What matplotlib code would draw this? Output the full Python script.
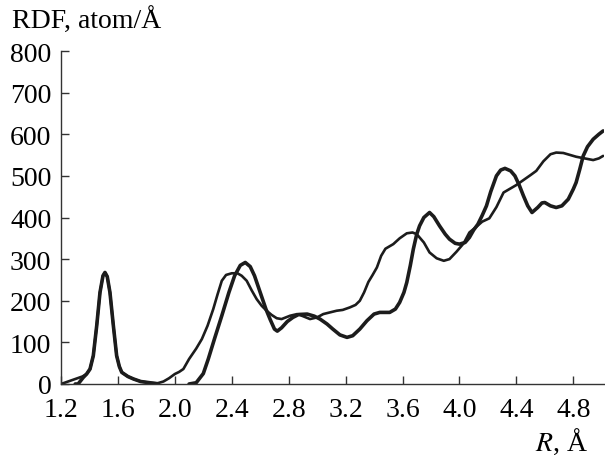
import numpy as np
import matplotlib
matplotlib.use("Agg")
import matplotlib.pyplot as plt

# Thick curve (with gap between ~1.9 and 2.1 where it lies on zero)
r_thick = [1.30, 1.32, 1.357, 1.38, 1.404, 1.427, 1.451, 1.474, 1.495, 1.509, 1.525, 1.544, 1.568, 1.591,
           1.61, 1.627, 1.67, 1.71, 1.76, 1.825, 1.88,
           np.nan,
           2.10, 2.15, 2.20, 2.235, 2.28, 2.33, 2.38, 2.42, 2.46, 2.495, 2.53, 2.56, 2.60, 2.64, 2.67, 2.70,
           2.72, 2.75, 2.79, 2.83, 2.87, 2.93, 2.98, 3.02, 3.07, 3.11, 3.16, 3.21, 3.25, 3.30, 3.35, 3.40,
           3.44, 3.51, 3.55, 3.58, 3.61, 3.63, 3.655, 3.676, 3.70, 3.72, 3.75, 3.79, 3.82, 3.86, 3.90, 3.93,
           3.97, 4.00, 4.04, 4.07, 4.10, 4.13, 4.16, 4.19, 4.22, 4.26, 4.29, 4.32, 4.36, 4.39, 4.42, 4.45,
           4.48, 4.51, 4.55, 4.58, 4.60, 4.64, 4.68, 4.72, 4.765, 4.80, 4.82, 4.845, 4.87, 4.90, 4.94, 4.98, 5.01]
v_thick = [0, 0, 16, 24, 36, 68, 140, 220, 260, 268, 258, 220, 140, 68,
           42, 28, 18, 12, 6, 3, 0,
           np.nan,
           0, 3, 25, 60, 110, 164, 220, 260, 285, 292, 282, 260, 220, 180, 155, 132,
           127, 135, 150, 160, 167, 168, 163, 156, 144, 132, 118, 112, 116, 132, 152, 168,
           172, 172, 180, 196, 220, 244, 285, 324, 360, 380, 400, 412, 402, 380, 360, 348,
           338, 336, 340, 352, 370, 384, 405, 428, 462, 500, 514, 518, 512, 500, 478, 452,
           428, 412, 424, 435, 436, 428, 424, 428, 444, 468, 484, 515, 548, 570, 588, 600, 608]

# Thin curve
r_thin = [1.20, 1.25, 1.30, 1.35, 1.38, 1.404, 1.427, 1.451, 1.474, 1.495, 1.509, 1.525, 1.544, 1.568, 1.591,
          1.61, 1.627, 1.67, 1.71, 1.76, 1.825,
          1.88, 1.92, 1.96, 2.00, 2.03, 2.06, 2.10, 2.15, 2.19, 2.23, 2.27, 2.30, 2.33, 2.36, 2.40, 2.44,
          2.47, 2.505, 2.54, 2.575, 2.61, 2.645, 2.68, 2.716, 2.75, 2.81, 2.86, 2.90, 2.95, 3.00, 3.043,
          3.09, 3.137, 3.18, 3.23, 3.27, 3.30, 3.33, 3.36, 3.39, 3.42, 3.45, 3.48, 3.535, 3.58, 3.63, 3.67,
          3.70, 3.75, 3.79, 3.84, 3.89, 3.93, 3.98, 4.03, 4.07, 4.12, 4.16, 4.21, 4.26, 4.31, 4.36, 4.40,
          4.45, 4.50, 4.54, 4.59, 4.64, 4.68, 4.73, 4.78, 4.82, 4.88, 4.94, 4.98, 5.01]
v_thin = [0, 6, 12, 18, 24, 36, 68, 140, 220, 260, 268, 258, 220, 140, 68,
          42, 28, 18, 12, 6, 3,
          2, 6, 14, 24, 29, 36, 60, 85, 108, 140, 180, 215, 248, 262, 266, 266,
          260, 248, 225, 204, 188, 176, 166, 158, 156, 164, 168, 163, 156, 160, 168,
          172, 176, 178, 184, 190, 200, 220, 245, 262, 280, 308, 325, 336, 350, 362, 364,
          360, 340, 316, 302, 296, 300, 318, 338, 364, 378, 390, 398, 425, 460, 470, 478,
          490, 502, 512, 535, 552, 556, 555, 550, 546, 542, 538, 542, 548]

x_ticks = [1.2, 1.6, 2.0, 2.4, 2.8, 3.2, 3.6, 4.0, 4.4, 4.8]
y_ticks = [0, 100, 200, 300, 400, 500, 600, 700, 800]

plt.rcParams['font.family'] = ['Liberation Serif', 'DejaVu Serif']
plt.rcParams['mathtext.fontset'] = 'stix'

fig = plt.figure(figsize=(6.05, 4.56), dpi=100)
ax = fig.add_axes([61/605, 71/456, 543/605, 333/456])
col = '#1c1c1c'
ax.plot(r_thin, v_thin, color=col, lw=1.9, solid_capstyle='round', solid_joinstyle='round')
ax.plot(r_thick, v_thick, color=col, lw=2.6, solid_capstyle='round', solid_joinstyle='round')

ax.set_xlim(1.2, 5.016)
ax.set_ylim(0, 800)
ax.set_xticks(x_ticks)
ax.set_xticklabels([f"{t:.1f}" for t in x_ticks])
ax.set_yticks(y_ticks)
for s in ['top', 'right']:
    ax.spines[s].set_visible(False)
for s in ['left', 'bottom']:
    ax.spines[s].set_linewidth(1.0)
    ax.spines[s].set_color('#333333')
ax.tick_params(direction='in', length=6, width=1.0, colors='#333333', labelcolor='black', labelsize=20)
ax.tick_params(axis='x', pad=9.5)
ax.tick_params(axis='y', pad=7)

fig.text(12/605, 1 - 21/456, 'RDF, atom/Å', fontsize=20, ha='left', va='center')
fig.text(588/605, 1 - 442/456, r'$\it{R}$, Å', fontsize=20, ha='right', va='center')

fig.savefig('out.png', dpi=100)
